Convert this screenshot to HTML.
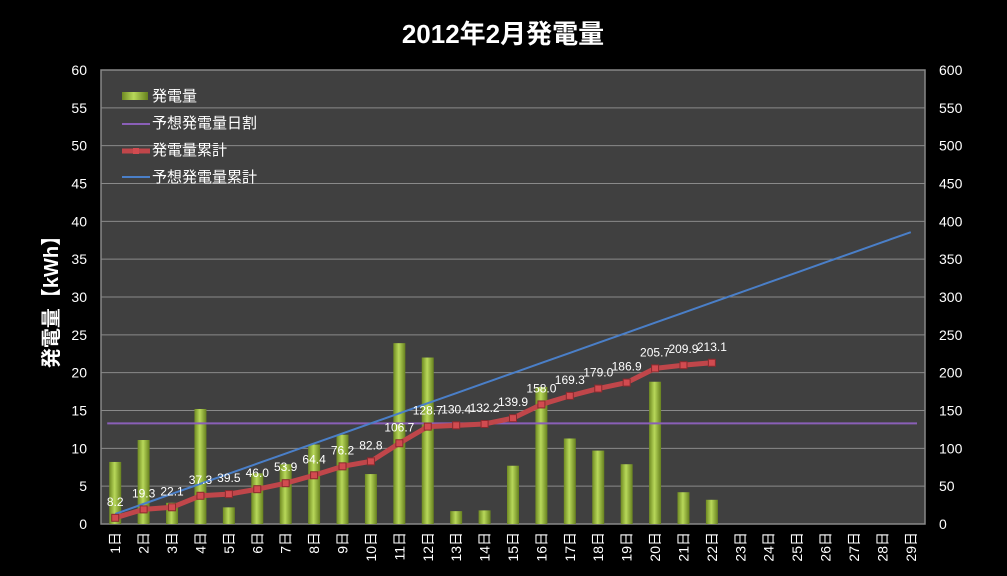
<!DOCTYPE html>
<html><head><meta charset="utf-8"><style>
body{margin:0;background:#000;width:1007px;height:576px;overflow:hidden}
svg{display:block;font-family:"Liberation Sans","Noto Sans CJK JP",sans-serif}
</style></head><body>
<svg id="c" width="1007" height="576"></svg>
<script>
const categories=["1日","2日","3日","4日","5日","6日","7日","8日","9日","10日","11日","12日","13日","14日","15日","16日","17日","18日","19日","20日","21日","22日","23日","24日","25日","26日","27日","28日","29日"];
const daily=[8.2,11.1,2.8,15.2,2.2,6.7,7.9,10.5,11.8,6.6,23.9,22.0,1.7,1.8,7.7,18.1,11.3,9.7,7.9,18.8,4.2,3.2];
const cumulative=[8.2,19.3,22.1,37.3,39.5,46.0,53.9,64.4,76.2,82.8,106.7,128.7,130.4,132.2,139.9,158.0,169.3,179.0,186.9,205.7,209.9,213.1];
const dailyTarget=13.3;
const leftTicks=[0,5,10,15,20,25,30,35,40,45,50,55,60];
const rightTicks=[0,50,100,150,200,250,300,350,400,450,500,550,600];
const NS="http://www.w3.org/2000/svg",svg=document.getElementById('c');
const L=101,R=925,T=70,B=524,n=categories.length,bw=(R-L)/n;
const x=i=>L+bw*(i+0.5), yl=v=>B-v/60*(B-T), yr=v=>B-v/600*(B-T);
function mk(t,a,p){const e=document.createElementNS(NS,t);for(const k in a)e.setAttribute(k,a[k]);(p||svg).appendChild(e);return e;}
const defs=mk('defs',{});
defs.innerHTML='<linearGradient id="bg" x1="0" x2="1"><stop offset="0" stop-color="#6f8a22"/><stop offset="0.45" stop-color="#b8d85a"/><stop offset="1" stop-color="#66801e"/></linearGradient>';
let e=mk('text',{x:503,y:43,fill:'#fff','font-size':26,'font-weight':'bold','text-anchor':'middle'});e.textContent='2012年2月発電量';


e=mk('rect',{x:L,y:T,width:R-L,height:B-T,fill:'#404040',stroke:'#888','stroke-width':1.5});


leftTicks.forEach(v=>{
 if(v>0&&v<60){const g=mk('line',{x1:L,x2:R,y1:yl(v),y2:yl(v),stroke:'#8a8a8a','stroke-width':1});}
 const t=mk('text',{x:L-14,y:yl(v)+5,fill:'#fff','font-size':14,'text-anchor':'end'});t.textContent=v;
 
 
});
rightTicks.forEach(v=>{const t=mk('text',{x:939,y:yr(v)+5,fill:'#fff','font-size':14});t.textContent=v;
 
 });
e=mk('text',{transform:'translate(58,297) rotate(-90)',fill:'#fff','font-size':20,'font-weight':'bold','text-anchor':'middle'});e.textContent='発電量【kWh】';


categories.forEach((c,i)=>{const t=mk('text',{transform:`translate(${x(i)+5},532) rotate(-90)`,fill:'#fff','font-size':14,'text-anchor':'end'});t.textContent=c;
 
 });
daily.forEach((v,i)=>{const r=mk('rect',{x:x(i)-6,y:yl(v),width:12,height:B-yl(v),fill:'url(#bg)'});
 
 });
e=mk('line',{x1:x(0)-8,x2:R-8,y1:yl(dailyTarget),y2:yl(dailyTarget),stroke:'#8a5fb8','stroke-width':2});


e=mk('polyline',{points:categories.map((c,i)=>x(i)+','+yr(dailyTarget*(i+1))).join(' '),fill:'none',stroke:'#4a7fc8','stroke-width':2});


e=mk('polyline',{points:cumulative.map((v,i)=>x(i)+','+yr(v)).join(' '),fill:'none',stroke:'#c0464a','stroke-width':5,'stroke-linejoin':'round'});


cumulative.forEach((v,i)=>{const m=mk('rect',{x:x(i)-3.5,y:yr(v)-3.5,width:7,height:7,fill:'#d24b50',stroke:'#8a2a2e'});
 
 
 const t=mk('text',{x:x(i),y:yr(v)-12,fill:'#fff','font-size':12,'text-anchor':'middle'});t.textContent=v.toFixed(1);
 
 });
const lg=mk('g',{});
e=mk('rect',{x:122,y:92,width:26,height:8,fill:'url(#bg)'},lg);
e=mk('line',{x1:122,x2:150,y1:124,y2:124,stroke:'#8a5fb8','stroke-width':2},lg);
e=mk('line',{x1:122,x2:150,y1:151,y2:151,stroke:'#c0464a','stroke-width':5},lg);
e=mk('rect',{x:133,y:148,width:6,height:6,fill:'#d24b50'},lg);
e=mk('line',{x1:122,x2:150,y1:177,y2:177,stroke:'#4a7fc8','stroke-width':2},lg);
[['発電量',101],['予想発電量日割',128],['発電量累計',155],['予想発電量累計',182]].forEach(([s,yy])=>{const t=mk('text',{x:152,y:yy,fill:'#fff','font-size':15},lg);t.textContent=s;
 
 });
</script>
</body></html>
